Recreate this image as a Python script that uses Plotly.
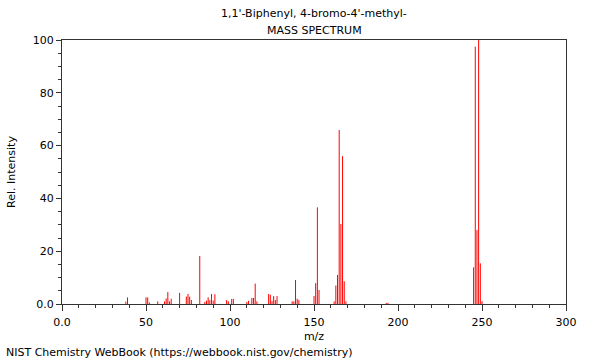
import plotly.graph_objects as go

# m/z values and relative intensities
mz = [38, 39, 50, 51, 52, 57, 61, 62, 63, 64, 65, 70,
      74, 75, 76, 77, 82, 85, 86, 87, 88, 89, 90, 91,
      98, 99, 101, 102, 110, 111, 113, 114, 115, 116,
      123, 124, 125, 126, 127, 128, 137, 138, 139, 140, 141,
      150, 151, 152, 153, 162, 163, 164, 165, 166, 167, 168, 169,
      193, 194, 245, 246, 247, 248, 249, 250]
intensity = [0.9, 2.5, 2.5, 2.5, 0.6, 1.0, 1.0, 2.1, 4.5, 1.0, 2.0, 4.2,
             2.8, 3.8, 2.8, 1.5, 18.2, 0.8, 1.3, 2.5, 1.5, 3.8, 1.3, 3.7,
             1.5, 1.0, 1.9, 1.9, 0.7, 1.2, 2.3, 2.3, 7.7, 1.0,
             3.8, 3.5, 1.2, 3.0, 1.5, 3.0, 1.0, 1.0, 9.1, 2.0, 1.5,
             3.0, 7.9, 36.6, 5.3, 1.0, 7.0, 11.0, 65.9, 30.3, 56.0, 8.6, 1.0,
             0.4, 0.4, 13.9, 97.5, 28.0, 100.0, 15.4, 1.1]

x_tickvals = [0, 50, 100, 150, 200, 250, 300]
x_ticktext = ["0.0", "50", "100", "150", "200", "250", "300"]
y_tickvals = [0, 20, 40, 60, 80, 100]
y_ticktext = ["0.0", "20", "40", "60", "80", "100"]

title_line1 = "1,1'-Biphenyl, 4-bromo-4'-methyl-"
title_line2 = "MASS SPECTRUM"
footer = "NIST Chemistry WebBook (https://webbook.nist.gov/chemistry)"

xs, ys = [], []
for m, v in zip(mz, intensity):
    xs += [m, m, None]
    ys += [0, v, None]

FONT = "DejaVu Sans"
TXT = dict(family=FONT, size=11, color="#000")

fig = go.Figure()
fig.add_trace(go.Scatter(x=xs, y=ys, mode="lines",
                         line=dict(color="#ff0000", width=1),
                         hoverinfo="skip", showlegend=False))

axis_common = dict(showgrid=False, zeroline=False, showline=True,
                   linecolor="#333", linewidth=1, mirror=True,
                   ticks="outside", tickcolor="#333", tickwidth=1,
                   tickfont=TXT)

fig.update_xaxes(range=[0, 300], tickvals=x_tickvals, ticktext=x_ticktext,
                 ticklen=6, ticklabelstandoff=2,
                 minor=dict(dtick=10, ticklen=3, ticks="outside", tickcolor="#333"),
                 title=dict(text="m/z", font=TXT, standoff=4),
                 **axis_common)
fig.update_yaxes(range=[0, 100], tickvals=y_tickvals, ticktext=y_ticktext,
                 ticklen=5,
                 minor=dict(dtick=5, ticklen=3, ticks="outside", tickcolor="#333"),
                 title=dict(text="Rel. Intensity", font=TXT, standoff=14),
                 **axis_common)

fig.update_layout(
    width=600, height=360,
    margin=dict(l=62, r=34, t=40, b=56, autoexpand=False),
    paper_bgcolor="white", plot_bgcolor="white",
    font=TXT,
    annotations=[
        dict(text=title_line1, x=0.5, y=1, xref="paper", yref="paper",
             xanchor="center", yanchor="bottom", yshift=18, showarrow=False,
             font=TXT),
        dict(text=title_line2, x=0.5, y=1, xref="paper", yref="paper",
             xanchor="center", yanchor="bottom", yshift=1, showarrow=False,
             font=TXT),
        dict(text=footer, x=-58 / 504, y=-56 / 264, yshift=-1, xref="paper", yref="paper",
             xanchor="left", yanchor="bottom", showarrow=False,
             font=TXT),
    ],
)

fig.write_html("out.html", config={"displayModeBar": False},
               post_script="document.body.style.margin='0';")
